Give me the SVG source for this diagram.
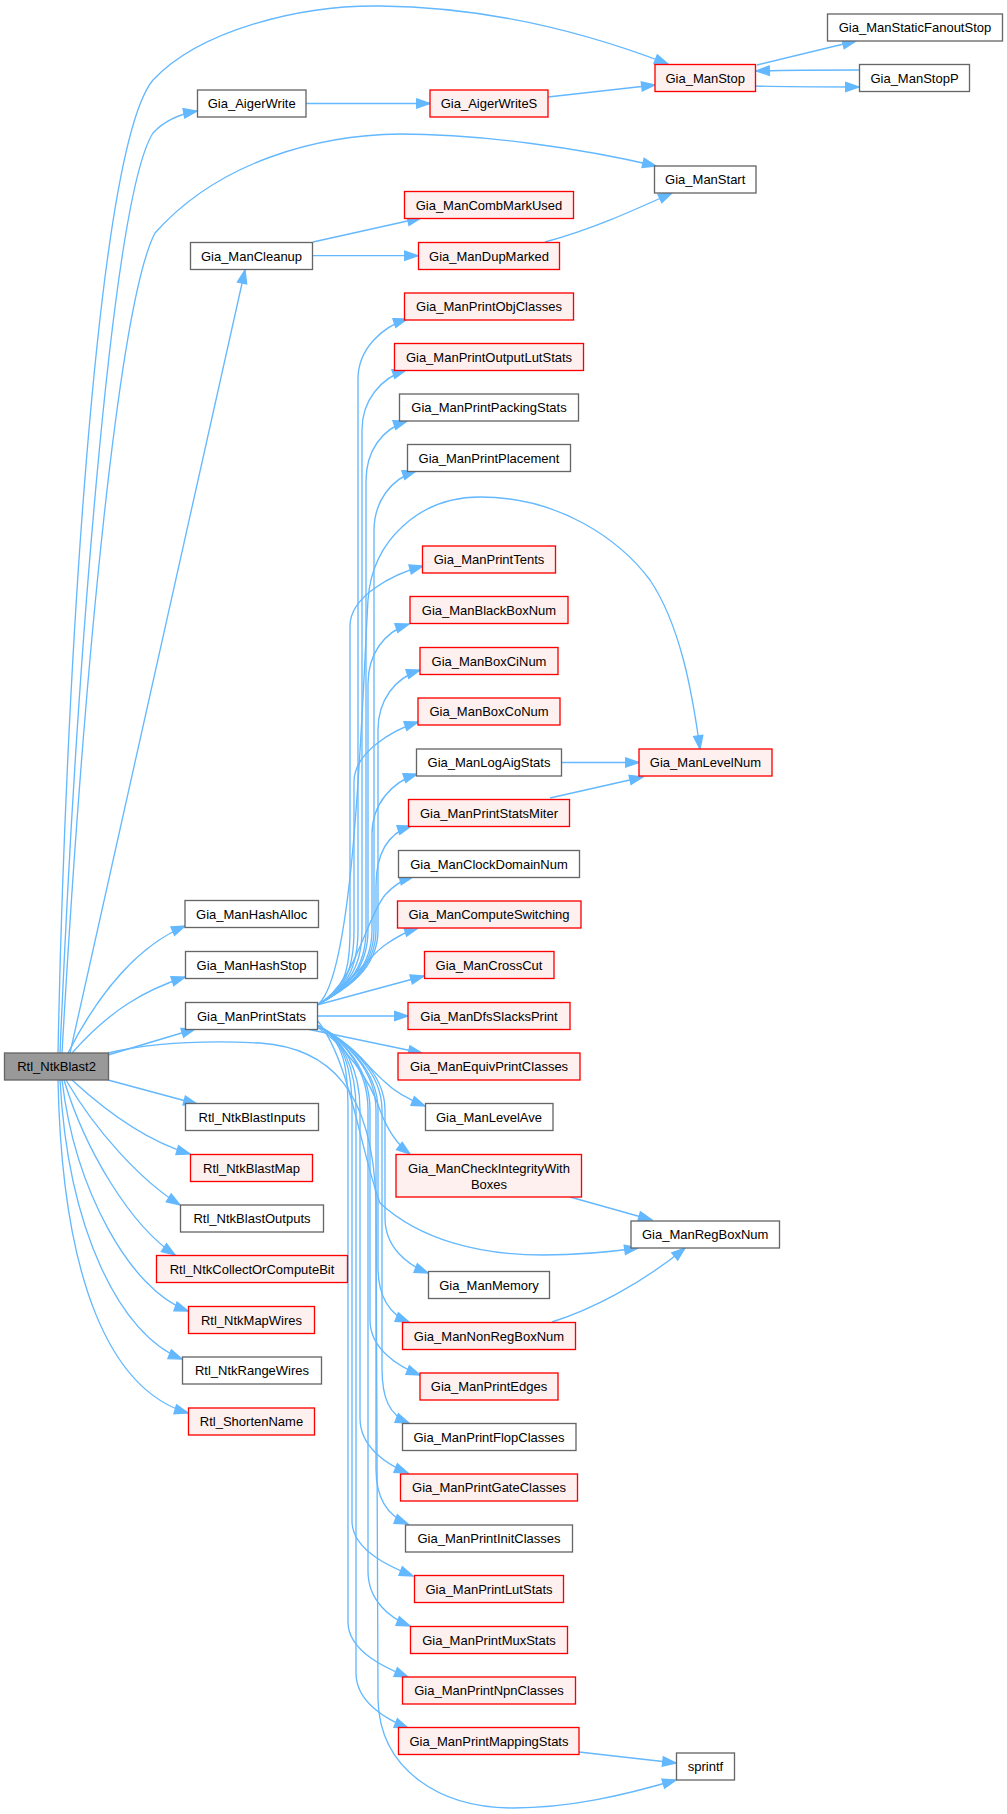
<svg xmlns="http://www.w3.org/2000/svg" width="1007" height="1814" viewBox="0 0 1007 1814">
<style>
.n rect{fill:#ffffff;stroke:#666666;stroke-width:1.33}
.r rect{fill:#fff0f0;stroke:#ff0000;stroke-width:1.33}
.g rect{fill:#999999;stroke:#666666;stroke-width:1.33}
text{font-family:"Liberation Sans",Arial,sans-serif;font-size:13px;fill:#000000;text-anchor:middle}
#edges path{fill:none;stroke:#63b8ff;stroke-width:1.33;marker-end:url(#a)}
</style>
<defs>
<marker id="a" markerWidth="16" markerHeight="12" refX="13.3" refY="4.67" orient="auto" markerUnits="userSpaceOnUse" overflow="visible">
<path d="M0,0 L13.3,4.67 L0,9.33 z" fill="#63b8ff" stroke="#63b8ff" stroke-width="1.33"/>
</marker>
</defs>
<rect width="1007" height="1814" fill="#ffffff"/>
<g id="edges">
<path d="M58,1053 C65,700 95,150 153,80 C200,30 300,5 380,6 C480,7 580,30 668,64"/>
<path d="M60,1053 C75,700 110,200 153,133 C165,120 180,114 197,111"/>
<path d="M62,1053 C85,650 120,300 155,233 C220,160 320,135 400,134 C480,134 580,148 656,166"/>
<path d="M70,1053 L245,270"/>
<path d="M68,1053 C100,990 140,945 185,926"/>
<path d="M72,1053 C110,1010 145,990 185,977"/>
<path d="M108,1055 L195,1029"/>
<path d="M108,1053 C150,1043 200,1040 260,1043 C330,1048 372,1090 376,1200 L378,1700 C380,1770 440,1808 513,1808 C570,1808 625,1795 676,1780"/>
<path d="M108,1080 L197,1104"/>
<path d="M72,1080 C110,1115 150,1142 190,1154"/>
<path d="M66,1080 C95,1130 140,1180 180,1205"/>
<path d="M64,1080 C85,1150 130,1225 175,1255"/>
<path d="M62,1080 C75,1190 130,1290 188,1311"/>
<path d="M60,1080 C68,1230 120,1335 182,1359"/>
<path d="M58,1080 C62,1280 110,1390 188,1413"/>
<path d="M306,103.5 L430,103.5"/>
<path d="M548,97 L655,85"/>
<path d="M757,65 L856,41"/>
<path d="M756,86 C780,87 820,87 859,87"/>
<path d="M859,70 C820,70 790,70 756,71"/>
<path d="M313,242 L421,218"/>
<path d="M313,255.7 L418,255.7"/>
<path d="M545,242 C590,230 630,212 672,193"/>
<path d="M317,1005 C345,990 358,970 358,930 L358,379 C358,349 382,327 407,319"/>
<path d="M317,1005 C345,990 362,970 362,930 L362,430 C362,400 381,378 406,370"/>
<path d="M317,1005 C345,990 366,970 366,930 L366,481 C366,451 382,429 407,421"/>
<path d="M317,1005 C345,990 374,970 374,930 L374,531 C374,501 391,479 416,471"/>
<path d="M317,1005 C355,980 362,700 368,600 C372,540 420,497 480,497 C560,497 620,540 650,580 C680,625 692,690 700,749"/>
<path d="M317,1005 C345,990 350,970 350,930 L350,626 C350,596 393,574 423,566"/>
<path d="M317,1005 C345,990 368,970 368,930 L368,684 C368,654 384,632 409,624"/>
<path d="M317,1005 C345,990 378,970 378,930 L378,730 C378,700 395,678 420,670"/>
<path d="M317,1005 C345,990 354,970 354,930 L354,782 C354,752 393,730 418,722"/>
<path d="M317,1005 C345,990 372,970 372,930 L372,834 C372,804 392,782 417,774"/>
<path d="M317,1005 C345,990 376,970 376,930 L376,886 C376,856 386,834 411,826"/>
<path d="M317,1005 C355,985 365,920 385,895 C395,884 405,879 413,877"/>
<path d="M317,1005 C345,990 370,955 385,945 C395,938 408,931 418,928"/>
<path d="M317,1005 L424,976"/>
<path d="M317,1016 L408,1016"/>
<path d="M307,1029 L422,1053"/>
<path d="M317,1027 C350,1040 370,1070 385,1082 C395,1092 410,1100 425,1106"/>
<path d="M317,1027 C345,1045 370,1080 380,1110 C388,1132 398,1145 410,1154"/>
<path d="M317,1020 C350,1060 360,1150 380,1203 C420,1240 480,1255 543,1255 C580,1255 610,1252 638,1248"/>
<path d="M317,1025 C345,1040 385,1070 385,1110 L385,1218 C385,1248 408,1265 428,1273"/>
<path d="M317,1025 C345,1040 378,1070 378,1110 L378,1267 C378,1297 389,1314 409,1322"/>
<path d="M317,1025 C345,1040 370,1070 370,1110 L370,1320 C370,1350 400,1367 420,1375"/>
<path d="M317,1025 C345,1040 382,1070 382,1110 L382,1368 C382,1398 389,1415 409,1423"/>
<path d="M317,1025 C345,1040 360,1070 360,1110 L360,1418 C360,1448 388,1465 408,1473"/>
<path d="M317,1025 C345,1040 376,1070 376,1110 L376,1469 C376,1499 388,1516 408,1524"/>
<path d="M317,1025 C345,1040 352,1070 352,1110 L352,1521 C352,1551 393,1568 413,1576"/>
<path d="M317,1025 C345,1040 368,1070 368,1110 L368,1571 C368,1601 390,1618 410,1626"/>
<path d="M317,1025 C345,1040 348,1070 348,1110 L348,1622 C348,1652 388,1669 408,1677"/>
<path d="M317,1025 C345,1040 356,1070 356,1110 L356,1673 C356,1703 388,1720 408,1728"/>
<path d="M562,762.5 L639,762.5"/>
<path d="M550,798 L643,777"/>
<path d="M570,1197 L652,1220"/>
<path d="M552,1322 C590,1310 640,1285 685,1248"/>
<path d="M579,1752 L676,1763"/>
</g>
<g id="Rtl_NtkBlast2" class="g"><rect x="4.5" y="1053" width="104" height="27"/><text x="56.5" y="1071">Rtl_NtkBlast2</text></g>
<g id="Gia_AigerWrite" class="n"><rect x="197.5" y="90" width="108.5" height="27"/><text x="251.7" y="108">Gia_AigerWrite</text></g>
<g id="Gia_AigerWriteS" class="r"><rect x="430" y="90" width="118" height="27"/><text x="489" y="108">Gia_AigerWriteS</text></g>
<g id="Gia_ManStop" class="r"><rect x="655" y="64.5" width="100.5" height="27"/><text x="705.2" y="82.5">Gia_ManStop</text></g>
<g id="Gia_ManStaticFanoutStop" class="n"><rect x="827.5" y="14" width="175" height="27"/><text x="915" y="32">Gia_ManStaticFanoutStop</text></g>
<g id="Gia_ManStopP" class="n"><rect x="859.5" y="64.5" width="110" height="27"/><text x="914.5" y="82.5">Gia_ManStopP</text></g>
<g id="Gia_ManStart" class="n"><rect x="654.5" y="166" width="101.5" height="27"/><text x="705.2" y="184">Gia_ManStart</text></g>
<g id="Gia_ManCleanup" class="n"><rect x="190.5" y="242.5" width="122" height="27"/><text x="251.5" y="260.5">Gia_ManCleanup</text></g>
<g id="Gia_ManCombMarkUsed" class="r"><rect x="404.5" y="191.5" width="169" height="27"/><text x="489" y="209.5">Gia_ManCombMarkUsed</text></g>
<g id="Gia_ManDupMarked" class="r"><rect x="418.5" y="242.5" width="141" height="27"/><text x="489" y="260.5">Gia_ManDupMarked</text></g>
<g id="Gia_ManPrintObjClasses" class="r"><rect x="404.5" y="293" width="169" height="27"/><text x="489" y="311">Gia_ManPrintObjClasses</text></g>
<g id="Gia_ManPrintOutputLutStats" class="r"><rect x="394.5" y="343.5" width="189" height="27"/><text x="489" y="361.5">Gia_ManPrintOutputLutStats</text></g>
<g id="Gia_ManPrintPackingStats" class="n"><rect x="399.5" y="394" width="179" height="27"/><text x="489" y="412">Gia_ManPrintPackingStats</text></g>
<g id="Gia_ManPrintPlacement" class="n"><rect x="407.5" y="444.5" width="163" height="27"/><text x="489" y="462.5">Gia_ManPrintPlacement</text></g>
<g id="Gia_ManPrintTents" class="r"><rect x="422.5" y="546" width="133" height="27"/><text x="489" y="564">Gia_ManPrintTents</text></g>
<g id="Gia_ManBlackBoxNum" class="r"><rect x="410" y="596.5" width="158" height="27"/><text x="489" y="614.5">Gia_ManBlackBoxNum</text></g>
<g id="Gia_ManBoxCiNum" class="r"><rect x="420" y="647.5" width="138" height="27"/><text x="489" y="665.5">Gia_ManBoxCiNum</text></g>
<g id="Gia_ManBoxCoNum" class="r"><rect x="418" y="698" width="142" height="27"/><text x="489" y="716">Gia_ManBoxCoNum</text></g>
<g id="Gia_ManLogAigStats" class="n"><rect x="416.5" y="749" width="145" height="27"/><text x="489" y="767">Gia_ManLogAigStats</text></g>
<g id="Gia_ManLevelNum" class="r"><rect x="639" y="749" width="133" height="27"/><text x="705.5" y="767">Gia_ManLevelNum</text></g>
<g id="Gia_ManPrintStatsMiter" class="r"><rect x="408.5" y="799.5" width="161" height="27"/><text x="489" y="817.5">Gia_ManPrintStatsMiter</text></g>
<g id="Gia_ManClockDomainNum" class="n"><rect x="398.5" y="850.5" width="181" height="27"/><text x="489" y="868.5">Gia_ManClockDomainNum</text></g>
<g id="Gia_ManComputeSwitching" class="r"><rect x="397.5" y="901" width="183.5" height="27"/><text x="489" y="919">Gia_ManComputeSwitching</text></g>
<g id="Gia_ManCrossCut" class="r"><rect x="424.5" y="951.5" width="129.5" height="27"/><text x="489" y="969.5">Gia_ManCrossCut</text></g>
<g id="Gia_ManDfsSlacksPrint" class="r"><rect x="408" y="1002.5" width="162" height="27"/><text x="489" y="1020.5">Gia_ManDfsSlacksPrint</text></g>
<g id="Gia_ManEquivPrintClasses" class="r"><rect x="398" y="1053" width="182" height="27"/><text x="489" y="1071">Gia_ManEquivPrintClasses</text></g>
<g id="Gia_ManLevelAve" class="n"><rect x="425.5" y="1103.5" width="127.5" height="27"/><text x="489" y="1121.5">Gia_ManLevelAve</text></g>
<g id="Gia_ManCheckIntegrityWithBoxes" class="r"><rect x="396" y="1154.5" width="185.5" height="42.5"/><text x="489" y="1172.8">Gia_ManCheckIntegrityWith</text><text x="489" y="1188.5">Boxes</text></g>
<g id="Gia_ManRegBoxNum" class="n"><rect x="631" y="1221" width="148.5" height="27"/><text x="705.2" y="1239">Gia_ManRegBoxNum</text></g>
<g id="Gia_ManMemory" class="n"><rect x="428.5" y="1271.5" width="121" height="27"/><text x="489" y="1289.5">Gia_ManMemory</text></g>
<g id="Gia_ManNonRegBoxNum" class="r"><rect x="402.5" y="1322.5" width="173" height="27"/><text x="489" y="1340.5">Gia_ManNonRegBoxNum</text></g>
<g id="Gia_ManPrintEdges" class="r"><rect x="420" y="1373" width="138" height="27"/><text x="489" y="1391">Gia_ManPrintEdges</text></g>
<g id="Gia_ManPrintFlopClasses" class="n"><rect x="402.5" y="1423.5" width="173.5" height="27"/><text x="489" y="1441.5">Gia_ManPrintFlopClasses</text></g>
<g id="Gia_ManPrintGateClasses" class="r"><rect x="400.5" y="1474" width="177" height="27"/><text x="489" y="1492">Gia_ManPrintGateClasses</text></g>
<g id="Gia_ManPrintInitClasses" class="n"><rect x="405.5" y="1525" width="167" height="27"/><text x="489" y="1543">Gia_ManPrintInitClasses</text></g>
<g id="Gia_ManPrintLutStats" class="r"><rect x="414.5" y="1575.5" width="149" height="27"/><text x="489" y="1593.5">Gia_ManPrintLutStats</text></g>
<g id="Gia_ManPrintMuxStats" class="r"><rect x="410.5" y="1626.5" width="157" height="27"/><text x="489" y="1644.5">Gia_ManPrintMuxStats</text></g>
<g id="Gia_ManPrintNpnClasses" class="r"><rect x="402.5" y="1677" width="173" height="27"/><text x="489" y="1695">Gia_ManPrintNpnClasses</text></g>
<g id="Gia_ManPrintMappingStats" class="r"><rect x="398.5" y="1727.5" width="180.5" height="27"/><text x="489" y="1745.5">Gia_ManPrintMappingStats</text></g>
<g id="sprintf" class="n"><rect x="676.5" y="1753" width="58" height="27"/><text x="705.5" y="1771">sprintf</text></g>
<g id="Gia_ManHashAlloc" class="n"><rect x="185" y="900.5" width="133.5" height="27"/><text x="251.7" y="918.5">Gia_ManHashAlloc</text></g>
<g id="Gia_ManHashStop" class="n"><rect x="185.5" y="951.5" width="132" height="27"/><text x="251.5" y="969.5">Gia_ManHashStop</text></g>
<g id="Gia_ManPrintStats" class="n"><rect x="185.5" y="1002.5" width="132" height="27"/><text x="251.5" y="1020.5">Gia_ManPrintStats</text></g>
<g id="Rtl_NtkBlastInputs" class="n"><rect x="185.5" y="1103.5" width="133" height="27"/><text x="252" y="1121.5">Rtl_NtkBlastInputs</text></g>
<g id="Rtl_NtkBlastMap" class="r"><rect x="190.5" y="1154.5" width="122" height="27"/><text x="251.5" y="1172.5">Rtl_NtkBlastMap</text></g>
<g id="Rtl_NtkBlastOutputs" class="n"><rect x="180.5" y="1205" width="143" height="27"/><text x="252" y="1223">Rtl_NtkBlastOutputs</text></g>
<g id="Rtl_NtkCollectOrComputeBit" class="r"><rect x="156.5" y="1255.5" width="191" height="27"/><text x="252" y="1273.5">Rtl_NtkCollectOrComputeBit</text></g>
<g id="Rtl_NtkMapWires" class="r"><rect x="188.5" y="1306.5" width="126" height="27"/><text x="251.5" y="1324.5">Rtl_NtkMapWires</text></g>
<g id="Rtl_NtkRangeWires" class="n"><rect x="182.5" y="1357" width="139" height="27"/><text x="252" y="1375">Rtl_NtkRangeWires</text></g>
<g id="Rtl_ShortenName" class="r"><rect x="188.5" y="1408" width="126" height="27"/><text x="251.5" y="1426">Rtl_ShortenName</text></g>
</svg>
